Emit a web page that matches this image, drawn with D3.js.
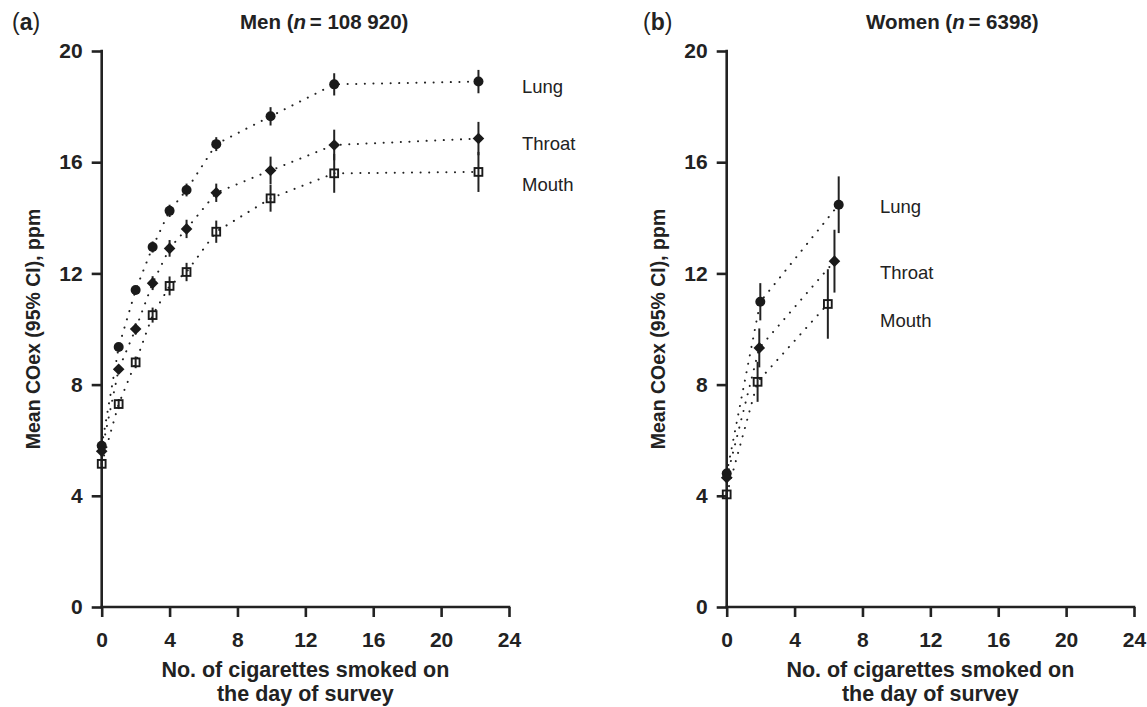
<!DOCTYPE html>
<html>
<head>
<meta charset="utf-8">
<script src="https://cdn.jsdelivr.net/npm/d3@7"></script>
<style>
  body { margin: 0; background: #fff; }
  svg { font-family: "Liberation Sans", Arial, sans-serif; }
  .tick text { font-size: 21px; font-weight: bold; fill: #222; }
</style>
</head>
<body>
<div id="chart"></div>
<script>
// men (panel a)
var menX = [0, 1, 2, 3, 4, 5, 6.75, 9.95, 13.7, 22.2];
var menLung = [5.8, 9.35, 11.4, 12.95, 14.25, 15.0, 16.65, 17.65, 18.8, 18.9];
var menLungCI = [0.1, 0.15, 0.15, 0.2, 0.22, 0.23, 0.25, 0.33, 0.4, 0.42];
var menThroat = [5.6, 8.55, 10.0, 11.65, 12.9, 13.6, 14.9, 15.7, 16.62, 16.85];
var menThroatCI = [0.1, 0.15, 0.2, 0.25, 0.3, 0.33, 0.33, 0.5, 0.55, 0.6];
var menMouth = [5.15, 7.3, 8.8, 10.5, 11.55, 12.05, 13.5, 14.7, 15.6, 15.65];
var menMouthCI = [0.1, 0.18, 0.21, 0.27, 0.34, 0.33, 0.4, 0.48, 0.7, 0.72];

// women (panel b)
var womenLungX = [0, 1.98, 6.6];
var womenLung = [4.8, 10.98, 14.47];
var womenLungCI = [0.1, 0.67, 1.02];
var womenThroatX = [0, 1.92, 6.35];
var womenThroat = [4.65, 9.32, 12.44];
var womenThroatCI = [0.1, 0.7, 1.13];
var womenMouthX = [0, 1.82, 5.96];
var womenMouth = [4.05, 8.1, 10.9];
var womenMouthCI = [0.1, 0.72, 1.25];

var xTicks = [0, 4, 8, 12, 16, 20, 24];
var yTicks = [0, 4, 8, 12, 16, 20];
var seriesNames = ["Lung", "Throat", "Mouth"];
var shapes = ["circle", "diamond", "square"];

var width = 1147, height = 707;
var plotTop = 51, plotBottom = 607;

var svg = d3.select("#chart").append("svg")
  .attr("width", width)
  .attr("height", height);

function zip(xs, ys, cis) {
  return xs.map(function(x, i) { return {x: x, y: ys[i], ci: cis[i]}; });
}

var panels = [
  {
    left: 101.7, right: 509, tag: "a", tagX: 12, titleX: 240,
    titleParts: ["Men (", "n", " = 108 920)"],
    labelX: 522, labelY: [93, 150, 191], ylabX: 40,
    series: [
      zip(menX, menLung, menLungCI),
      zip(menX, menThroat, menThroatCI),
      zip(menX, menMouth, menMouthCI)
    ]
  },
  {
    left: 726.7, right: 1134, tag: "b", tagX: 643, titleX: 866,
    titleParts: ["Women (", "n", " = 6398)"],
    labelX: 880, labelY: [213, 279, 327], ylabX: 665,
    series: [
      zip(womenLungX, womenLung, womenLungCI),
      zip(womenThroatX, womenThroat, womenThroatCI),
      zip(womenMouthX, womenMouth, womenMouthCI)
    ]
  }
];

panels.forEach(function(p) {
  var x = d3.scaleLinear().domain([0, 24]).range([p.left, p.right]);
  var y = d3.scaleLinear().domain([0, 20]).range([plotBottom, plotTop]);
  var g = svg.append("g");

  var xAxis = g.append("g")
    .attr("transform", "translate(0," + plotBottom + ")")
    .call(d3.axisBottom(x).tickValues(xTicks).tickSize(10).tickSizeOuter(0).tickPadding(15));
  var yAxis = g.append("g")
    .attr("transform", "translate(" + p.left + ",0)")
    .call(d3.axisLeft(y).tickValues(yTicks).tickSize(10).tickSizeOuter(0).tickPadding(9));
  g.selectAll(".domain, .tick line")
    .attr("stroke", "#222")
    .attr("stroke-width", 2.6);
  xAxis.selectAll(".domain").attr("d", "M" + (p.left - 1.3) + ",0H" + (p.right + 1.3));
  yAxis.selectAll(".domain").attr("d", "M0," + (plotTop - 1.3) + "V" + (plotBottom + 1.3));

  // dotted connecting lines
  var line = d3.line().x(function(d) { return x(d.x); }).y(function(d) { return y(d.y); });
  p.series.forEach(function(s) {
    g.append("path")
      .datum(s)
      .attr("d", line)
      .attr("fill", "none")
      .attr("stroke", "#222")
      .attr("stroke-width", 2)
      .attr("stroke-linecap", "round")
      .attr("stroke-dasharray", "0.1,8.5");
  });

  // error bars + markers
  p.series.forEach(function(s, si) {
    g.selectAll(".err" + si)
      .data(s)
      .enter().append("line")
      .attr("x1", function(d) { return x(d.x); })
      .attr("x2", function(d) { return x(d.x); })
      .attr("y1", function(d) { return y(d.y - d.ci); })
      .attr("y2", function(d) { return y(d.y + d.ci); })
      .attr("stroke", "#222")
      .attr("stroke-width", 2);

    var m = g.selectAll(".m" + si).data(s).enter();
    if (shapes[si] === "circle") {
      m.append("circle")
        .attr("cx", function(d) { return x(d.x); })
        .attr("cy", function(d) { return y(d.y); })
        .attr("r", 5)
        .attr("fill", "#1a1a1a");
    } else if (shapes[si] === "diamond") {
      m.append("path")
        .attr("d", function(d) {
          var cx = x(d.x), cy = y(d.y), r = 5.8;
          return "M" + cx + "," + (cy - r) + "L" + (cx + r) + "," + cy +
                 "L" + cx + "," + (cy + r) + "L" + (cx - r) + "," + cy + "Z";
        })
        .attr("fill", "#1a1a1a");
    } else {
      m.append("rect")
        .attr("x", function(d) { return x(d.x) - 3.9; })
        .attr("y", function(d) { return y(d.y) - 3.9; })
        .attr("width", 7.8)
        .attr("height", 7.8)
        .attr("fill", "none")
        .attr("stroke", "#1a1a1a")
        .attr("stroke-width", 1.9);
    }
  });

  // series labels
  seriesNames.forEach(function(name, i) {
    g.append("text")
      .attr("x", p.labelX)
      .attr("y", p.labelY[i])
      .attr("font-size", 18.5)
      .attr("fill", "#222")
      .text(name);
  });

  // panel title
  var t = g.append("text")
    .attr("x", p.titleX)
    .attr("y", 29)
    .attr("font-size", 20.5)
    .attr("font-weight", "bold")
    .attr("fill", "#222")
    .style("white-space", "pre");
  t.append("tspan").text(p.titleParts[0]);
  t.append("tspan").attr("font-style", "italic").text(p.titleParts[1]);
  t.append("tspan").attr("dx", -2).text(p.titleParts[2]);

  // panel tag
  var tag = g.append("text")
    .attr("x", p.tagX)
    .attr("y", 30)
    .attr("font-size", 23)
    .attr("fill", "#222");
  tag.append("tspan").text("(");
  tag.append("tspan").attr("font-weight", "bold").text(p.tag);
  tag.append("tspan").text(")");

  // y axis label
  g.append("text")
    .attr("transform", "translate(" + p.ylabX + "," + (plotTop + plotBottom) / 2 + ") rotate(-90)")
    .attr("text-anchor", "middle")
    .attr("font-size", 19.5)
    .attr("font-weight", "bold")
    .attr("fill", "#222")
    .text("Mean COex (95% CI), ppm");

  // x axis label
  var xl = g.append("text")
    .attr("text-anchor", "middle")
    .attr("font-size", 21.5)
    .attr("font-weight", "bold")
    .attr("fill", "#222");
  xl.append("tspan").attr("x", (p.left + p.right) / 2).attr("y", 677).text("No. of cigarettes smoked on");
  xl.append("tspan").attr("x", (p.left + p.right) / 2).attr("y", 701).text("the day of survey");
});
</script>
</body>
</html>
